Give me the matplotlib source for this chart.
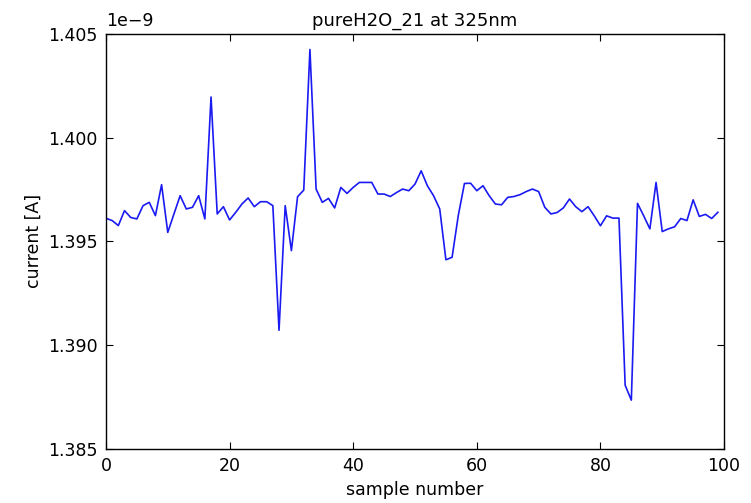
import matplotlib
matplotlib.use("Agg")
import matplotlib.pyplot as plt
import numpy as np

title = "pureH2O_21 at 325nm"
xlabel = "sample number"
ylabel = "current [A]"

current = [
    1.39611, 1.39600, 1.39576, 1.39648, 1.39615, 1.39608, 1.39672, 1.39688, 1.39624, 1.39773,
    1.39543, 1.39632, 1.39720, 1.39656, 1.39664, 1.39720, 1.39608, 1.40196, 1.39632, 1.39667,
    1.39603, 1.39640, 1.39680, 1.39709, 1.39667, 1.39691, 1.39691, 1.39672, 1.39071, 1.39672,
    1.39455, 1.39715, 1.39747, 1.40425, 1.39752, 1.39688, 1.39707, 1.39661, 1.39760, 1.39731,
    1.39760, 1.39784, 1.39784, 1.39784, 1.39728, 1.39728, 1.39716, 1.39735, 1.39752, 1.39744,
    1.39776, 1.39840, 1.39768, 1.39720, 1.39656, 1.39411, 1.39423, 1.39624, 1.39779, 1.39780,
    1.39744, 1.39768, 1.39720, 1.39680, 1.39676, 1.39712, 1.39716, 1.39725, 1.39740, 1.39752,
    1.39740, 1.39664, 1.39632, 1.39639, 1.39661, 1.39704, 1.39667, 1.39643, 1.39667, 1.39623,
    1.39575, 1.39623, 1.39612, 1.39612, 1.38806, 1.38734, 1.39683, 1.39623, 1.39560, 1.39784,
    1.39547, 1.39560, 1.39570, 1.39610, 1.39600, 1.39700, 1.39620, 1.39630, 1.39610, 1.39640,
]
samples = np.arange(len(current))
values = np.array(current) * 1e-9

fig = plt.figure(figsize=(7.51, 5.03), dpi=100, facecolor="white")
ax = fig.add_axes([0.1411, 0.108, 0.823, 0.8245])
ax.plot(samples, values, color=(0.1, 0.1, 0.95), lw=1.2)
ax.set_xlim(0, 100)
ax.set_ylim(1.385e-9, 1.405e-9)
ax.set_xticks(np.arange(0, 101, 20))
ax.set_yticks(np.arange(1.385, 1.4051, 0.005) * 1e-9)
ax.ticklabel_format(axis="y", style="sci", scilimits=(0, 0), useOffset=False)
fs = 12.5
ax.yaxis.set_major_formatter(matplotlib.ticker.FuncFormatter(lambda v, p: f"{v*1e9:.3f}"))
ax.text(0.0, 1.01, "1e\u22129", transform=ax.transAxes, fontsize=fs, ha="left", va="bottom")
ax.tick_params(direction="in", top=True, right=True, length=5, labelsize=fs, pad=6)
for s in ax.spines.values():
    s.set_linewidth(1.0)
ax.set_title(title, fontsize=fs + 0.5, pad=6)
ax.set_xlabel(xlabel, fontsize=fs)
ax.set_ylabel(ylabel, fontsize=fs)
fig.savefig("out.png", dpi=100, facecolor="white")
